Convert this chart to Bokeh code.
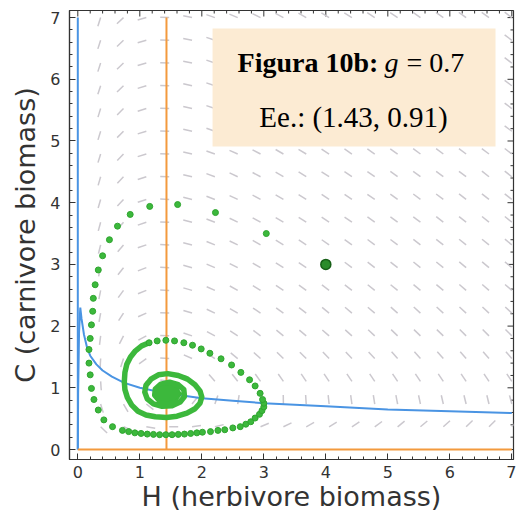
from bokeh.plotting import figure
from bokeh.models import Range1d, Label, SingleIntervalTicker
from bokeh.embed import file_html
from bokeh.resources import INLINE

# ---------------- data ----------------
# direction-field grid (H columns, C rows from top to bottom)
field_H = [0.368, 0.737, 1.105, 1.474, 1.842, 2.211, 2.579, 2.947, 3.316, 3.684,
           4.053, 4.421, 4.789, 5.158, 5.526, 5.895, 6.263, 6.632, 7.0]
field_C = [7.0, 6.632, 6.263, 5.895, 5.526, 5.158, 4.789, 4.421, 4.053, 3.684,
           3.316, 2.947, 2.579, 2.211, 1.842, 1.474, 1.105, 0.737, 0.368]
# flow direction (degrees) of each little arrow, one row per C value
field_dir = [
    [252, 223, 196, 178, 168, 161, 157, 154, 152, 150, 149, 148, 147, 146, 145, 145, 144, 144, 143],
    [252, 224, 196, 178, 168, 161, 157, 154, 151, 150, 148, 147, 146, 146, 145, 145, 144, 144, 143],
    [252, 224, 196, 178, 168, 161, 157, 154, 151, 150, 148, 147, 146, 146, 145, 144, 144, 144, 143],
    [252, 224, 197, 178, 167, 161, 156, 153, 151, 149, 148, 147, 146, 145, 145, 144, 144, 143, 143],
    [253, 225, 197, 178, 167, 161, 156, 153, 151, 149, 148, 147, 146, 145, 145, 144, 144, 143, 143],
    [253, 225, 197, 178, 167, 160, 156, 153, 151, 149, 148, 146, 146, 145, 144, 144, 143, 143, 143],
    [253, 226, 197, 178, 167, 160, 156, 153, 150, 149, 147, 146, 145, 145, 144, 143, 143, 143, 142],
    [254, 227, 198, 178, 167, 160, 155, 152, 150, 148, 147, 146, 145, 144, 144, 143, 143, 142, 142],
    [254, 227, 198, 178, 166, 159, 155, 152, 150, 148, 146, 145, 145, 144, 143, 143, 142, 142, 142],
    [255, 229, 199, 178, 166, 159, 154, 151, 149, 147, 146, 145, 144, 143, 143, 142, 142, 141, 141],
    [256, 230, 199, 178, 166, 158, 154, 150, 148, 146, 145, 144, 143, 143, 142, 142, 141, 141, 140],
    [257, 232, 201, 178, 165, 157, 153, 150, 147, 146, 144, 143, 142, 142, 141, 141, 140, 140, 140],
    [259, 234, 202, 178, 164, 156, 151, 148, 146, 144, 143, 142, 141, 141, 140, 140, 139, 139, 139],
    [260, 237, 204, 178, 163, 155, 150, 146, 144, 143, 141, 140, 140, 139, 138, 138, 138, 137, 137],
    [263, 243, 208, 177, 161, 152, 147, 143, 141, 140, 139, 138, 137, 136, 136, 136, 135, 135, 135],
    [267, 252, 216, 176, 156, 146, 141, 138, 136, 135, 134, 133, 133, 132, 132, 132, 131, 131, 131],
    [274, 268, 244, 172, 140, 131, 128, 126, 125, 124, 124, 124, 124, 124, 124, 124, 124, 124, 124],
    [287, 300, 322, 6, 51, 71, 81, 87, 91, 94, 96, 98, 99, 101, 102, 103, 104, 104, 105],
    [316, 338, 351, 1, 8, 14, 19, 23, 26, 29, 32, 34, 36, 39, 40, 42, 44, 45, 47],
]

# herbivore nullcline (curve) and carnivore nullcline (H = H*)
hnull_H = [0.0, 0.005, 0.02, 0.04, 0.06, 0.1, 0.15, 0.2, 0.3, 0.4, 0.55, 0.75, 1.0,
           1.43, 2.0, 2.5, 3.0, 4.0, 5.0, 6.0, 7.0]
hnull_C = [0.0, 0.9, 1.9, 2.3, 2.12, 1.86, 1.65, 1.52, 1.38, 1.28, 1.18, 1.08, 1.0,
           0.91, 0.83, 0.79, 0.75, 0.70, 0.65, 0.62, 0.59]
axis_span = [0.0, 7.0]
H_star = 1.43
C_star = 0.91

# tick positions of the frame
major_ticks = [0, 1, 2, 3, 4, 5, 6, 7]
minor_ticks = [0.2, 0.4, 0.6, 0.8, 1.2, 1.4, 1.6, 1.8, 2.2, 2.4, 2.6, 2.8, 3.2, 3.4,
               3.6, 3.8, 4.2, 4.4, 4.6, 4.8, 5.2, 5.4, 5.6, 5.8, 6.2, 6.4, 6.6, 6.8]

# initial condition
start_H = [4.0]
start_C = [3.0]

# sparse part of the trajectory (individual dots)
traj_H = [3.04, 2.22, 1.61, 1.16, 0.845, 0.64, 0.51, 0.40, 0.33, 0.28, 0.25, 0.24, 0.22,
          0.20, 0.18, 0.18, 0.20, 0.22, 0.26, 0.33, 0.42, 0.56, 0.72, 0.82, 0.92, 1.02,
          1.12, 1.22, 1.32, 1.42, 1.52, 1.62, 1.72, 1.82, 1.92, 2.01, 2.14, 2.26, 2.37,
          2.50, 2.62, 2.71, 2.79, 2.86, 2.93, 2.97, 3.00, 3.00, 2.98, 2.94, 2.86, 2.77,
          2.63, 2.48, 2.31, 2.13, 1.99, 1.85, 1.71, 1.56, 1.42, 1.28, 1.15]
traj_C = [3.50, 3.84, 3.97, 3.94, 3.81, 3.62, 3.40, 3.14, 2.91, 2.67, 2.45, 2.24, 2.02,
          1.80, 1.62, 1.40, 1.21, 0.99, 0.81, 0.64, 0.48, 0.37, 0.31, 0.29, 0.27, 0.26,
          0.25, 0.245, 0.24, 0.24, 0.24, 0.245, 0.25, 0.26, 0.27, 0.28, 0.29, 0.31, 0.32,
          0.35, 0.37, 0.41, 0.45, 0.51, 0.57, 0.63, 0.69, 0.75, 0.81, 0.91, 1.03, 1.13,
          1.25, 1.37, 1.47, 1.56, 1.63, 1.69, 1.73, 1.76, 1.77, 1.76, 1.73]

# dense part of the trajectory (dots merge into a thick band)
dense_H = [1.15, 1.03, 0.93, 0.85, 0.79, 0.76, 0.75, 0.76, 0.80, 0.87, 0.97, 1.10, 1.25,
           1.43, 1.60, 1.76, 1.89, 1.97, 2.00, 1.97, 1.89, 1.77, 1.62, 1.45, 1.30, 1.18,
           1.10, 1.08, 1.12, 1.22, 1.36, 1.52, 1.65, 1.72, 1.71, 1.62, 1.48, 1.34, 1.25,
           1.24, 1.31, 1.44, 1.57, 1.63, 1.58, 1.46, 1.35, 1.33, 1.40, 1.50, 1.51, 1.43,
           1.39, 1.43, 1.46]
dense_C = [1.73, 1.68, 1.60, 1.50, 1.38, 1.25, 1.10, 0.97, 0.84, 0.72, 0.62, 0.56, 0.53,
           0.52, 0.54, 0.59, 0.66, 0.75, 0.85, 0.95, 1.05, 1.14, 1.20, 1.23, 1.21, 1.14,
           1.04, 0.93, 0.82, 0.74, 0.70, 0.71, 0.77, 0.86, 0.97, 1.05, 1.09, 1.06, 0.98,
           0.88, 0.80, 0.77, 0.81, 0.90, 0.98, 1.01, 0.96, 0.88, 0.83, 0.86, 0.93, 0.95,
           0.90, 0.88, 0.91]

title_bold = "Figura 10b:"
title_param = "g"
title_value = "= 0.7"
eq_text = "Ee.: (1.43, 0.91)"

# ---------------- figure ----------------
X0, X1, Y0, Y1 = -0.134, 7.027, -0.162, 7.115
p = figure(width=516, height=515, output_backend="svg", toolbar_location=None,
           x_range=Range1d(X0, X1), y_range=Range1d(Y0, Y1),
           min_border_left=69, min_border_right=3, min_border_top=10,
           min_border_bottom=56, background_fill_color="white",
           border_fill_color="white")
p.grid.visible = False
p.outline_line_color = "#333333"
p.outline_line_width = 1.2

ticker = SingleIntervalTicker(interval=1, num_minor_ticks=5)
for ax in (p.xaxis[0], p.yaxis[0]):
    ax.ticker = ticker
    ax.major_tick_in = 6
    ax.major_tick_out = 0
    ax.minor_tick_in = 3
    ax.minor_tick_out = 0
    ax.axis_line_color = "#333333"
    ax.axis_line_width = 1.2
    ax.major_tick_line_color = "#333333"
    ax.minor_tick_line_color = "#333333"
    ax.major_label_text_font = "DejaVu Sans"
    ax.major_label_text_font_size = "16px"
    ax.major_label_text_color = "#333333"
    ax.axis_label_text_font = "DejaVu Sans"
    ax.axis_label_text_font_size = "27px"
    ax.axis_label_text_font_style = "normal"
    ax.axis_label_text_color = "#333333"
    ax.axis_label_standoff = 0
p.xaxis[0].axis_label = "H (herbivore biomass)"
p.yaxis[0].axis_label = "C (carnivore biomass)"
p.xaxis[0].major_label_standoff = 6
p.yaxis[0].major_label_standoff = 9
p.yaxis[0].axis_label_standoff = 6

# tick marks on the top and right edges of the frame
tick_col = "#333333"
p.ray(x=major_ticks, y=[Y1] * len(major_ticks), length=6, length_units="screen",
      angle=-90, angle_units="deg", line_color=tick_col, line_width=1)
p.ray(x=minor_ticks, y=[Y1] * len(minor_ticks), length=3, length_units="screen",
      angle=-90, angle_units="deg", line_color=tick_col, line_width=1)
p.ray(x=[X1] * len(major_ticks), y=major_ticks, length=6, length_units="screen",
      angle=180, angle_units="deg", line_color=tick_col, line_width=1)
p.ray(x=[X1] * len(minor_ticks), y=minor_ticks, length=3, length_units="screen",
      angle=180, angle_units="deg", line_color=tick_col, line_width=1)

# direction field
fx, fy, fd = [], [], []
for i, c in enumerate(field_C):
    for j, h in enumerate(field_H):
        fx.append(h)
        fy.append(c)
        fd.append(field_dir[i][j])
p.ray(x=fx, y=fy, length=9, length_units="screen", angle=fd, angle_units="deg",
      line_color="#cbc8ce", line_width=1.5)

# nullclines
p.line(hnull_H, hnull_C, line_color="#4a94e3", line_width=2)
p.line([0.0, 0.0], axis_span, line_color="#4a94e3", line_width=2)
p.line([H_star, H_star], axis_span, line_color="#f39a3d", line_width=2)
p.line(axis_span, [0.0, 0.0], line_color="#f39a3d", line_width=2)

# trajectory
p.line(dense_H, dense_C, line_color="#3cb83c", line_width=5.5, line_join="round",
       line_cap="round")
p.ellipse(x=[H_star], y=[C_star], width=0.42, height=0.26, fill_color="#3cb83c",
          line_color="#3cb83c")
p.scatter(traj_H, traj_C, size=6, fill_color="#3cb83c", line_color="#2fa52f")
p.scatter(start_H, start_C, size=10, fill_color="#2b8c2b", line_color="#175f17",
          line_width=1.5)

# annotation box
p.quad(left=2.173, right=6.737, bottom=4.911, top=6.823, fill_color="#fcebd3",
       line_color=None)
p.add_layout(Label(x=2.576, y=6.277, text=title_bold, text_font="Liberation Serif",
                   text_font_style="bold", text_font_size="28px", text_color="black",
                   text_baseline="alphabetic", text_align="left"))
p.add_layout(Label(x=4.947, y=6.277, text=title_param, text_font="Liberation Serif",
                   text_font_style="italic", text_font_size="28px", text_color="black",
                   text_baseline="alphabetic", text_align="left"))
p.add_layout(Label(x=5.302, y=6.277, text=title_value, text_font="Liberation Serif",
                   text_font_size="28px", text_color="black",
                   text_baseline="alphabetic", text_align="left"))
p.add_layout(Label(x=4.447, y=5.381, text=eq_text, text_font="Liberation Serif",
                   text_font_size="29px", text_color="black",
                   text_baseline="alphabetic", text_align="center"))

open("out.html", "w").write(file_html(p, INLINE))
